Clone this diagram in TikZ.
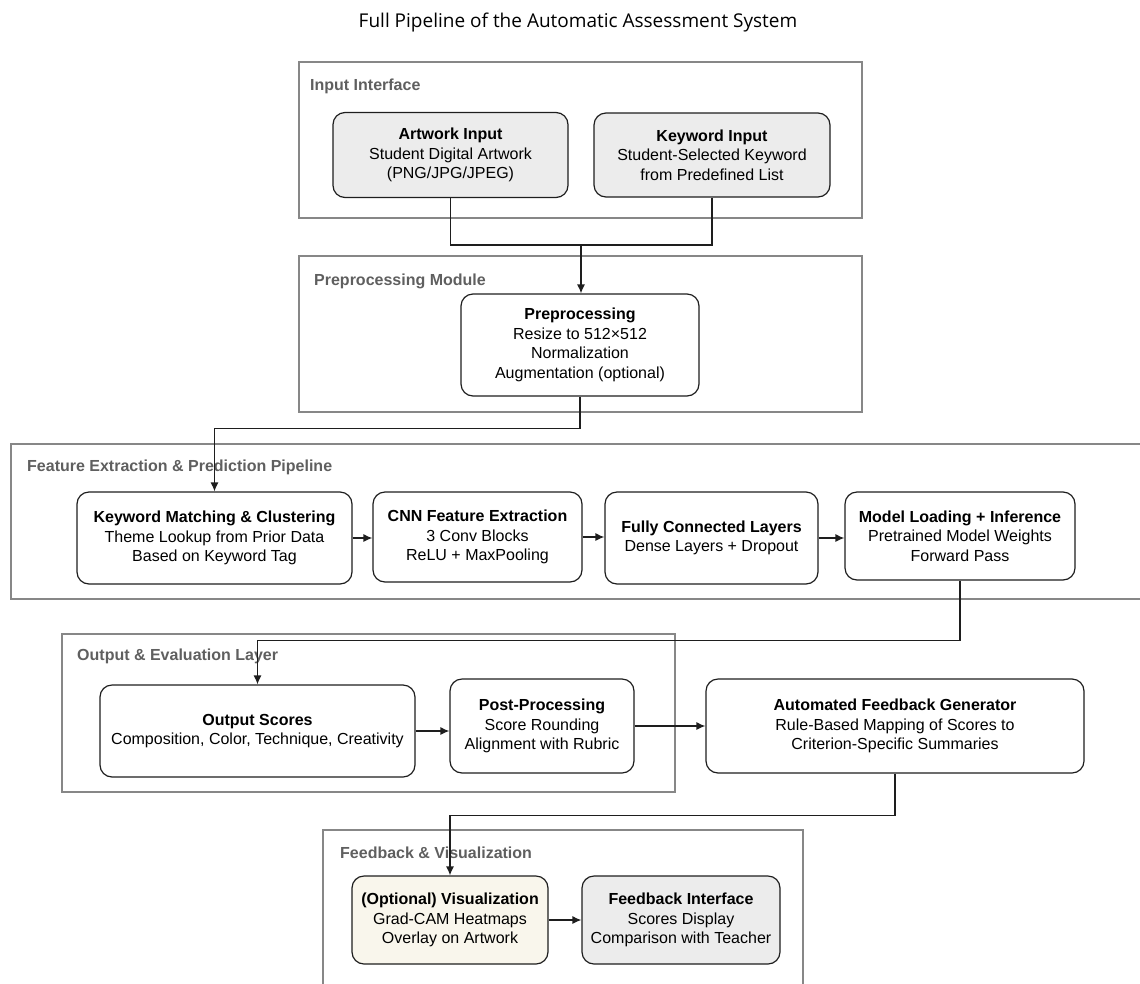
\documentclass[tikz,border=0pt]{standalone}
\usepackage{fontspec}
\setmainfont{Liberation Sans}
\newfontfamily\titlefont{Open Sans}
\usepackage{tikz}
\usetikzlibrary{positioning, arrows.meta}
\definecolor{FrameGray}{RGB}{135,135,135}
\definecolor{LabelGray}{RGB}{95,95,95}
\definecolor{EdgeDark}{RGB}{30,30,30}
\definecolor{InputFill}{RGB}{236,236,236}
\definecolor{VisFill}{RGB}{249,246,236}
\tikzset{
  group/.style={draw=FrameGray, line width=1.1pt},
  grouplabel/.style={anchor=west, inner sep=0pt, text=LabelGray, font=\fontsize{16}{19}\selectfont\bfseries},
  stage/.style={draw=EdgeDark, line width=1.2pt, rounded corners=12pt, fill=white, align=center, inner sep=2pt, font=\fontsize{16}{19.5}\selectfont},
  inputstage/.style={stage, fill=InputFill},
  visstage/.style={stage, fill=VisFill},
  link/.style={draw=EdgeDark, line width=1.2pt},
  flow/.style={link, -{Latex[length=9pt,width=8pt]}}
}

\begin{document}
\begin{tikzpicture}[x=1pt, y=-1pt]
  \useasboundingbox (0,0) rectangle (1140,983);

  % Title
  \node[font=\titlefont\fontsize{19}{22}\selectfont, anchor=base] (title) at (578,27) {Full Pipeline of the Automatic Assessment System};

  % Input interface
  \draw[group] (299,62) rectangle (862,218);
  \node[grouplabel] (lblinput) at (310,86) {Input Interface};
  \node[inputstage, minimum width=235pt, minimum height=85pt] (artwork) at (450.5,155)
    {\textbf{Artwork Input}\\Student Digital Artwork\\(PNG/JPG/JPEG)};
  \node[inputstage, minimum width=236pt, minimum height=84pt] (keyword) at (712,155)
    {\textbf{Keyword Input}\\Student-Selected Keyword\\from Predefined List};

  % Preprocessing module
  \draw[group] (299,256) rectangle (862,412);
  \node[grouplabel] (lblprep) at (314,281) {Preprocessing Module};
  \node[stage, minimum width=238pt, minimum height=102pt] (prep) at (580,345)
    {\textbf{Preprocessing}\\Resize to 512×512\\Normalization\\Augmentation (optional)};

  \coordinate (join) at (581,245);
  \draw[link] (artwork.south) |- (join);
  \draw[link] (keyword.south) |- (join);
  \draw[flow] (join) -- (prep.north -| join);

  % Feature extraction and prediction
  \draw[group] (11,444) rectangle (1145,599);
  \node[grouplabel] (lblfeat) at (27,467) {Feature Extraction \& Prediction Pipeline};
  \node[stage, minimum width=275pt, minimum height=92pt] (match) at (214.5,538)
    {\textbf{Keyword Matching \& Clustering}\\Theme Lookup from Prior Data\\Based on Keyword Tag};
  \node[stage, minimum width=209pt, minimum height=90pt] (cnn) at (477.5,537)
    {\textbf{CNN Feature Extraction}\\3 Conv Blocks\\ReLU + MaxPooling};
  \node[stage, minimum width=213pt, minimum height=92pt] (dense) at (711.5,538)
    {\textbf{Fully Connected Layers}\\Dense Layers + Dropout};
  \node[stage, minimum width=230pt, minimum height=88pt] (model) at (960,536)
    {\textbf{Model Loading + Inference}\\Pretrained Model Weights\\Forward Pass};

  \draw[flow] (prep.south) -- ++(0,32) -| (match.north);
  \draw[flow] (match.east) -- (cnn.west |- match.east);
  \draw[flow] (cnn.east) -- (dense.west |- cnn.east);
  \draw[flow] (dense.east) -- (model.west |- dense.east);

  % Output and evaluation
  \draw[group] (62,634) rectangle (675,792);
  \node[grouplabel] (lbleval) at (77,656) {Output \& Evaluation Layer};
  \node[stage, minimum width=315pt, minimum height=92pt] (scores) at (257.5,731)
    {\textbf{Output Scores}\\Composition, Color, Technique, Creativity};
  \node[stage, minimum width=184pt, minimum height=94pt] (post) at (542,726)
    {\textbf{Post-Processing}\\Score Rounding\\Alignment with Rubric};
  \node[stage, minimum width=378pt, minimum height=94pt] (gen) at (895,726)
    {\textbf{Automated Feedback Generator}\\Rule-Based Mapping of Scores to\\Criterion-Specific Summaries};

  \draw[flow] (model.south) -- ++(0,60) -| (scores.north);
  \draw[flow] (scores.east) -- (post.west |- scores.east);
  \draw[flow] (post.east) -- (gen.west |- post.east);

  % Feedback and visualization
  \draw[group] (323,830) rectangle (803,995);
  \node[grouplabel] (lblfeed) at (340,853) {Feedback \& Visualization};
  \node[visstage, minimum width=196pt, minimum height=88pt] (vis) at (450,920)
    {\textbf{(Optional) Visualization}\\Grad-CAM Heatmaps\\Overlay on Artwork};
  \node[inputstage, minimum width=198pt, minimum height=88pt] (fbi) at (681,920)
    {\textbf{Feedback Interface}\\Scores Display\\Comparison with Teacher};

  \draw[flow] (gen.south) -- ++(0,42) -| (vis.north);
  \draw[flow] (vis.east) -- (fbi.west);
\end{tikzpicture}
\end{document}
